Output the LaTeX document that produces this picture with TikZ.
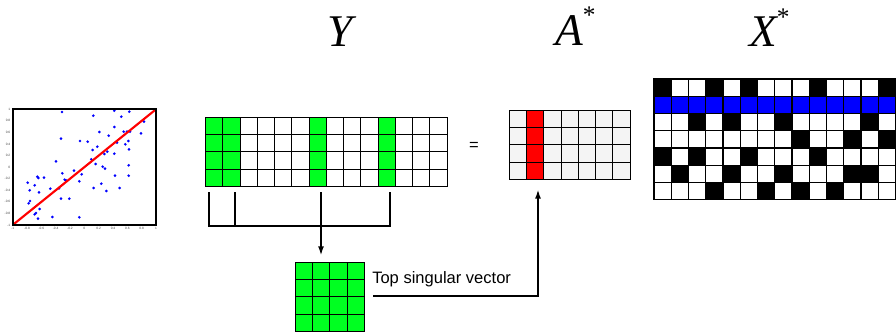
\documentclass[tikz,border=0pt]{standalone}
\usepackage{fontspec}
\setmainfont{Liberation Sans}
\newfontfamily\titlefont{Liberation Serif}
\usetikzlibrary{arrows.meta,calc}
\definecolor{vgreen}{RGB}{0,255,33}
\definecolor{vblue}{RGB}{0,0,255}
\definecolor{vred}{RGB}{255,0,0}
\definecolor{cellgray}{RGB}{244,244,244}
\tikzset{cell/.style={draw=black,line width=0.8pt},
 mtitle/.style={font=\titlefont\itshape\fontsize{34}{34}\selectfont,inner sep=0pt,anchor=base west},
 lbl/.style={font=\fontsize{12.4}{14}\selectfont,inner sep=0pt},
 ticklbl/.style={font=\fontsize{2.4}{3}\selectfont,inner sep=0.4pt,text=black!75},
 link/.style={line width=1.3pt},
 arr/.style={link,-{Latex[length=7pt,width=4.5pt]}},
 sdot/.style={fill=vblue},
 fitline/.style={draw=vred,line width=1.6pt}}
\newcommand{\cw}{17.25}
\newcommand{\tstar}{\raisebox{16pt}{\upshape\fontsize{19}{19}\selectfont*}}
% \mgrid{x}{y}{cols}{rows}{fill}
\newcommand{\mgrid}[5]{\foreach \i in {1,...,#3}{\foreach \j in {1,...,#4}{\draw[cell,fill=#5] ({#1+(\i-1)*\cw},{#2+(\j-1)*\cw}) rectangle ++(\cw,\cw);}}}
% \mcell{x}{y}{col}{row}{fill}
\newcommand{\mcell}[5]{\draw[cell,fill=#5] ({#1+#3*\cw},{#2+#4*\cw}) rectangle ++(\cw,\cw);}
\begin{document}
\begin{tikzpicture}[x=0.75pt,y=-0.75pt]
\useasboundingbox (0,0) rectangle (896,332);
% scatter plot
\foreach \p in {(62.0,112.0),(93.3,115.7),(114.3,110.7),(129.3,111.7),(121.3,116.7),(144.0,121.7),(99.3,132.0),(114.3,127.0),(123.7,131.7),(130.0,131.7),(127.0,131.7),(141.0,133.3),(108.7,135.7),(61.0,138.7),(80.0,141.0),(87.7,141.7),(117.0,142.7),(125.3,144.3),(128.3,141.0),(97.3,146.7),(92.7,150.0),(129.0,149.3),(56.0,161.3),(91.3,159.3),(95.7,164.0),(107.3,151.7),(104.3,154.0),(114.3,153.7),(102.7,166.7),(105.0,168.7),(128.7,165.3),(74.0,170.7),(81.7,174.3),(62.3,173.3),(64.7,179.7),(66.0,180.3),(79.3,181.3),(37.3,176.7),(38.3,178.0),(44.0,177.7),(27.7,182.7),(34.7,185.3),(29.7,190.3),(39.0,192.3),(50.3,188.7),(59.0,188.3),(93.7,188.0),(101.3,183.7),(115.0,175.7),(128.7,175.7),(119.7,188.0),(106.3,191.0),(61.0,198.7),(69.3,198.7),(30.0,201.0),(28.7,203.3),(39.7,209.0),(36.0,213.0),(34.7,214.3),(38.0,218.7),(52.3,217.0),(79.3,217.3)}
  \fill[sdot] \p circle (1.1pt);
\coordinate (pl) at (12.7,225);\coordinate (pr) at (156,109.3);
\draw[fitline] (pl)--(pr);
\draw[line width=1.5pt] (pl) rectangle (pr);
\foreach \t [count=\i from 0] in {1,0.8,0.6,0.4,0.2,0,-0.2,-0.4,-0.6,-0.8,-1}
  \node[ticklbl,anchor=east] at (11,{109.3+\i*11.57}) {\t};
\foreach \t [count=\i from 0] in {-1,-0.8,-0.6,-0.4,-0.2,0,0.2,0.4,0.6,0.8,1}
  \node[ticklbl,anchor=north] at ({12.7+\i*14.33},226.5) {\t};
% titles
\node[mtitle](ty) at(327,46.7){Y};
\node[mtitle](ta) at(555,45){A\tstar};
\node[mtitle](tx) at(749,46.7){X\tstar};
% Y
\mgrid{205.7}{117.3}{14}{4}{white}
\foreach \c in {0,1,6,10}{\foreach \r in {0,...,3}{\mcell{205.7}{117.3}{\c}{\r}{vgreen}}}
\node[lbl](eq) at(474,146){=};
% A*
\mgrid{509.3}{110.3}{7}{4}{cellgray}
\foreach \r in {0,...,3}{\mcell{509.3}{110.3}{1}{\r}{vred}}
% X*
\mgrid{654}{79}{14}{7}{white}
\foreach \c in {0,...,13}{\mcell{654}{79}{\c}{1}{vblue}}
\foreach \c/\r in {0/0,3/0,5/0,9/0,13/0,2/2,4/2,7/2,12/2,8/3,11/3,13/3,0/4,2/4,5/4,9/4,1/5,4/5,7/5,11/5,12/5,3/6,6/6,8/6,10/6}
  {\mcell{654}{79}{\c}{\r}{black}}
% top singular vector
\mgrid{295.3}{262.3}{4}{4}{vgreen}
\node[lbl,anchor=base west](sv) at(372,283.3){Top singular vector};
\coordinate (b1) at(209,192);\coordinate (b2) at(235,192);
\coordinate (b3) at(321,192);\coordinate (b4) at(390,192);
\coordinate (s) at(321,262.3);\coordinate (a) at(538,179.3);
\coordinate (svout) at($(sv.base west)+(1,12.7)$);
\draw[link] (b1)|-(b4 |- 0,226)--(b4);
\draw[link] (b2)--(b2 |- 0,226);
\draw[arr,shorten >=5pt] (b3)--(s);
\draw[arr,shorten >=7.5pt] (svout)-|(a);
\end{tikzpicture}
\end{document}
